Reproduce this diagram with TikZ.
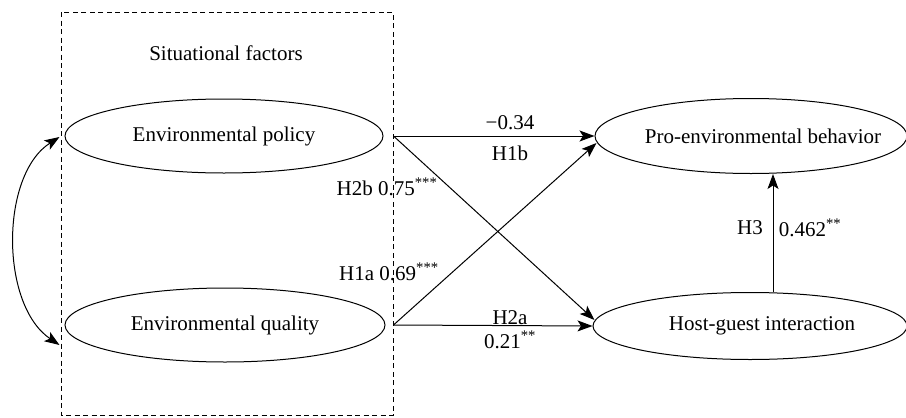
\documentclass[tikz,border=0pt]{standalone}
\usepackage{fontspec}
\setmainfont{Liberation Serif}
\usetikzlibrary{shapes.geometric,arrows.meta}
\begin{document}
\begin{tikzpicture}[x=1pt,y=-1pt,
  every node/.style={font=\fontsize{21}{24}\selectfont},
  oval/.style={draw,ellipse,line width=1pt,inner sep=0pt},
  lbl/.style={inner sep=0pt},
  conn/.style={line width=1pt,-{Stealth[length=15pt,width=11pt,inset=3.5pt]}},
  dbl/.style={line width=1pt,{Stealth[length=15pt,width=11pt,inset=3.5pt]}-{Stealth[length=15pt,width=11pt,inset=3.5pt]}}]
\useasboundingbox (0,0) rectangle (906,418);
\draw[line width=1pt,dash pattern=on 5pt off 3.5pt] (61,12) rectangle (393,415);
\node[lbl] (sf) at (226,53) {Situational factors};
\node[oval,minimum width=318pt,minimum height=74pt] (ep) at (224,136) {};
\node[lbl] (ept) at (224,136) {Environmental policy};
\node[oval,minimum width=320pt,minimum height=74pt] (eq) at (225,325) {};
\node[lbl] (eqt) at (225,325) {Environmental quality};
\node[oval,minimum width=312pt,minimum height=75pt] (peb) at (751,136) {};
\node[lbl] (pebt) at (763,136) {Pro-environmental behavior};
\node[oval,minimum width=314pt,minimum height=67pt] (hgi) at (750,326) {};
\node[lbl] (hgit) at (762,326) {Host-guest interaction};
\coordinate (epo) at ([xshift=10pt]ep.east);
\coordinate (eqo) at ([xshift=8pt]eq.east);
\draw[conn] (epo) -- (peb.west);
\draw[conn] (eqo) -- ([shift={(2,7)}]peb.west);
\draw[conn] (epo) -- ([shift={(2,-6)}]hgi.west);
\draw[conn] (eqo) -- (hgi.west);
\draw[conn] (hgi.north -| 773,0) -- (peb.south -| 773,0);
\draw[dbl] ([shift={(-5,1)}]ep.west) .. controls (0,175) and (0,305) .. ([shift={(-5,20)}]eq.west);
\node[lbl] (l1) at (510,123) {−0.34};
\node[lbl] (l2) at (510,153) {H1b};
\node[lbl] (l3) at (387,187) {H2b 0.75\textsuperscript{***}};
\node[lbl] (l4) at (389,272) {H1a 0.69\textsuperscript{***}};
\node[lbl] (l5) at (510,318) {H2a};
\node[lbl] (l6) at (510,340) {0.21\textsuperscript{**}};
\node[lbl] (l7) at (750,228) {H3};
\node[lbl] (l8) at (810,228) {0.462\textsuperscript{**}};
\end{tikzpicture}
\end{document}
